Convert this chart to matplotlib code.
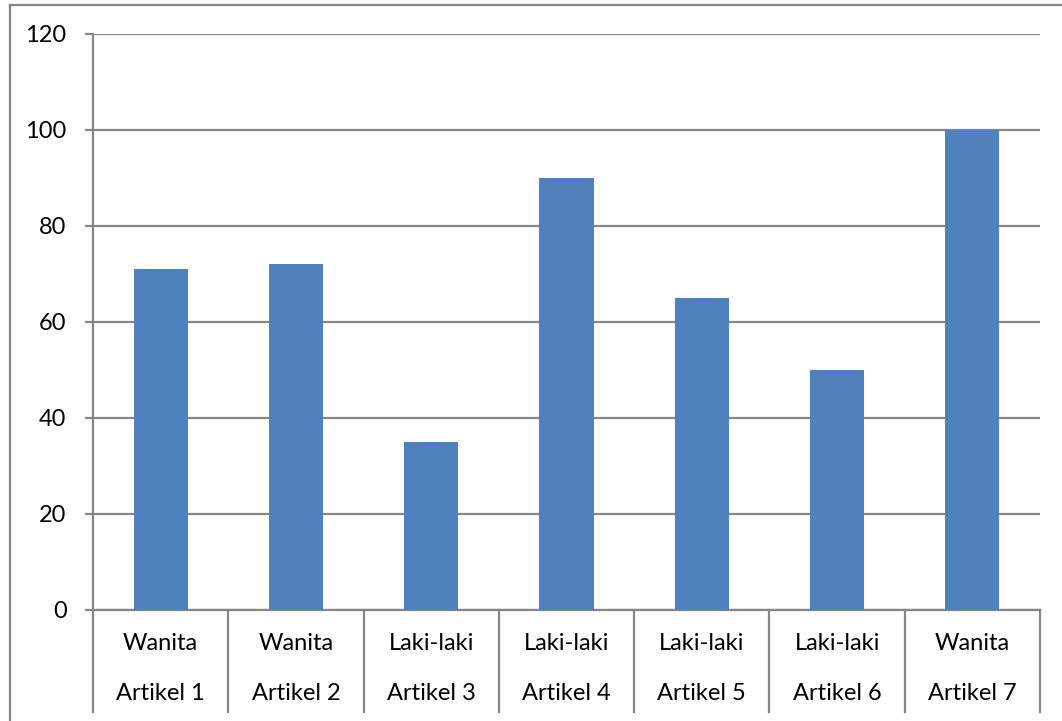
import numpy as np
import matplotlib
matplotlib.use("Agg")
import matplotlib.pyplot as plt
from matplotlib.lines import Line2D
import matplotlib.transforms as mtransforms

# data
articles = ["Artikel 1", "Artikel 2", "Artikel 3", "Artikel 4",
            "Artikel 5", "Artikel 6", "Artikel 7"]
genders = ["Wanita", "Wanita", "Laki-laki", "Laki-laki",
           "Laki-laki", "Laki-laki", "Wanita"]
values = [71, 72, 35, 90, 65, 50, 100]
y_ticks = [0, 20, 40, 60, 80, 100, 120]

BAR = "#4F81BD"
GRID = "#868686"
W, H = 1062, 721
FS = 17

plt.rcParams["font.family"] = ["Lato", "DejaVu Sans"]

fig = plt.figure(figsize=(W / 100, H / 100), dpi=100)
ax = fig.add_axes([93 / W, 1 - 610 / H, (1040 - 93) / W, (610 - 34) / H])

x = np.arange(len(values))
ax.bar(x, values, width=0.4, color=BAR, zorder=3)

ax.set_xlim(-0.5, len(values) - 0.5)
ax.set_ylim(0, 120)
ax.set_yticks(y_ticks)
ax.set_xticks([])
ax.yaxis.grid(True, color=GRID, linewidth=1.6, zorder=0)
ax.tick_params(axis="y", length=6, width=1.6, color=GRID, pad=13,
               labelsize=FS)

for side in ["top", "right"]:
    ax.spines[side].set_visible(False)
for side in ["left", "bottom"]:
    ax.spines[side].set_color(GRID)
    ax.spines[side].set_linewidth(1.6)

# two-level category axis
trans = mtransforms.blended_transform_factory(ax.transData, ax.transAxes)
for b in np.arange(-0.5, len(values), 1.0):
    ax.plot([b, b], [0, -0.177], color=GRID, linewidth=1.6,
            transform=trans, clip_on=False)
for i, (g, a) in enumerate(zip(genders, articles)):
    ax.text(i, -0.058, g, transform=trans, ha="center", va="center",
            fontsize=FS)
    ax.text(i, -0.145, a, transform=trans, ha="center", va="center",
            fontsize=FS)

# outer chart frame (cut off at right and bottom)
fig.add_artist(Line2D([10 / W, 1], [1 - 5 / H, 1 - 5 / H],
                      color=GRID, linewidth=1.6, transform=fig.transFigure))
fig.add_artist(Line2D([10 / W, 10 / W], [0, 1 - 5 / H],
                      color=GRID, linewidth=1.6, transform=fig.transFigure))

fig.savefig("out.png", dpi=100)
